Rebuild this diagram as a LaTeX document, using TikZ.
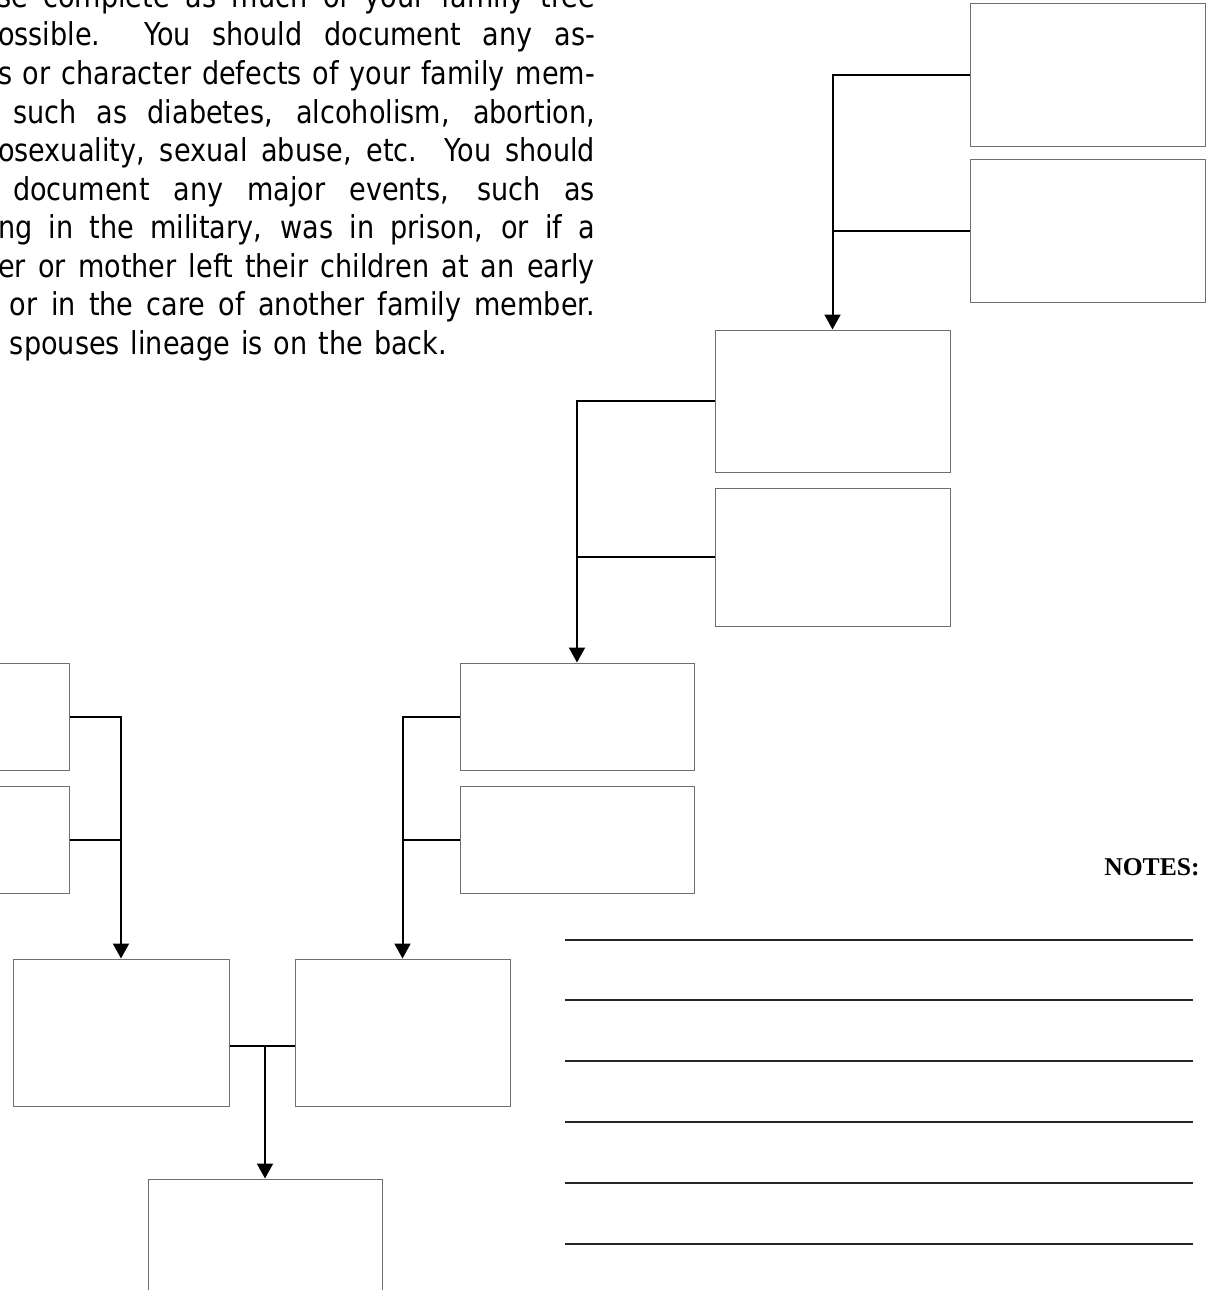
\documentclass[tikz,border=0pt]{standalone}
\usepackage{fontspec}
\usepackage{graphicx}
\usetikzlibrary{arrows.meta,fit}
\newfontfamily\tahfont{DejaVu Sans}
\newfontfamily\notesfont{Liberation Serif}
\definecolor{boxgray}{RGB}{110,110,110}
\newcommand{\pline}[4]{\node[pline] (#1) at (#2) {\tahfont\fontsize{15.75}{18}\selectfont\scalebox{0.86}[1]{\makebox[#3][s]{#4}}};}
\tikzset{
  box/.style={draw=boxgray, line width=0.5pt, inner sep=0pt, fill=white},
  conn/.style={draw=black, line width=1pt},
  arr/.style={conn, -{Triangle[width=8pt,length=7.5pt]}},
  pline/.style={anchor=base west, inner sep=0pt, outer sep=0pt},
  noteline/.style={draw=black!85, line width=0.8pt},
}
\begin{document}
\begin{tikzpicture}[x=0.5pt,y=-0.5pt]
\useasboundingbox (0,0) rectangle (1216,1290);
% paragraph (left part cut off)
\pline{l1}{-3,7.5}{347.67pt}{se complete as much of your family tree}
\pline{l2}{-2,46}{347.09pt}{ossible.\ \ You should document any as-}
\pline{l3}{-2,84.5}{347.09pt}{s or character defects of your family mem-}
\pline{l4}{13,123}{338.37pt}{such as diabetes, alcoholism, abortion,}
\pline{l5}{-2,161.5}{347.09pt}{osexuality, sexual abuse, etc.\ \ You should}
\pline{l6}{13,200}{338.37pt}{document any major events, such as}
\pline{l7}{-2,238.5}{347.09pt}{ng in the military, was in prison, or if a}
\pline{l8}{-2,277}{347.09pt}{er or mother left their children at an early}
\pline{l9}{10,315.5}{340.12pt}{or in the care of another family member.}
\pline{l10}{10,354}{254.07pt}{spouses lineage is on the back.}
% boxes
\node[box, fit={(970,3) (1205,146)}] (A) {};
\node[box, fit={(970,159) (1205,302)}] (B) {};
\node[box, fit={(715,330) (950,472)}] (C) {};
\node[box, fit={(715,488) (950,626)}] (D) {};
\node[box, fit={(460,663) (694,770)}] (E) {};
\node[box, fit={(460,786) (694,893)}] (F) {};
\node[box, fit={(-166,663) (69,770)}] (G1) {};
\node[box, fit={(-166,786) (69,893)}] (G2) {};
\node[box, fit={(13,959) (229,1106)}] (I) {};
\node[box, fit={(295,959) (510,1106)}] (J) {};
\node[box, fit={(148,1179) (382,1340)}] (K) {};
% connectors
\draw[arr] (A.west) -| (C.north);
\draw[conn] (B.west) -- (B.west -| C.north);
\draw[arr] (C.west) -| (E.north);
\draw[conn] (D.west) -- (D.west -| E.north);
\draw[arr] (E.west) -| (J.north);
\draw[conn] (F.west) -- (F.west -| J.north);
\draw[arr] (G1.east) -| (I.north);
\draw[conn] (G2.east) -- (G2.east -| I.north);
\coordinate (m) at (265,1046);
\draw[conn] (I.east |- m) -- (J.west |- m);
\draw[arr] (m -| K.north) -- (K.north);
% notes
\node[anchor=base east, inner sep=0pt] (notes) at (1200,875) {\notesfont\fontsize{12.8}{15}\selectfont\bfseries NOTES:};
\foreach \yy/\nm in {940/n1,1000/n2,1061/n3,1122/n4,1183/n5,1244/n6}{
  \coordinate (\nm a) at (565,\yy);
  \coordinate (\nm b) at (1193,\yy);
  \draw[noteline] (\nm a) -- (\nm b);
}
\end{tikzpicture}
\end{document}
